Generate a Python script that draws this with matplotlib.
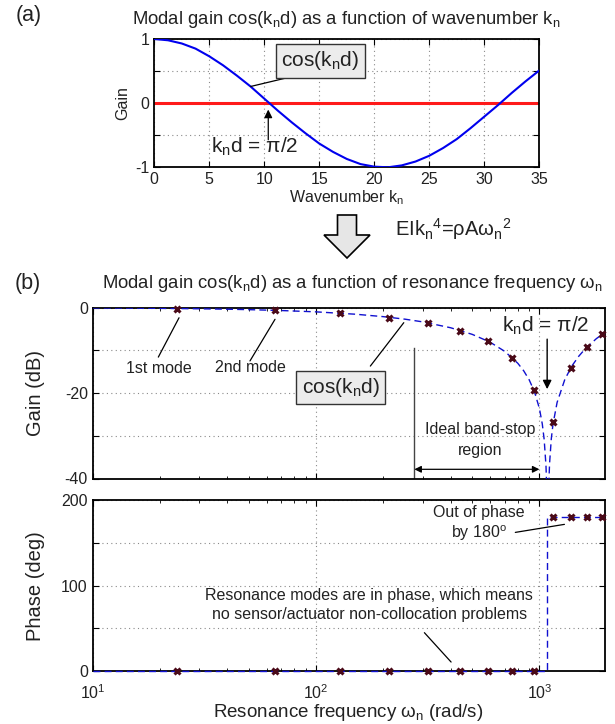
import matplotlib
matplotlib.use("Agg")
import matplotlib.pyplot as plt
from matplotlib.patches import FancyArrow
from matplotlib.ticker import FixedLocator, FixedFormatter, LogLocator, NullFormatter

plt.rcParams['font.family'] = ['Liberation Sans', 'DejaVu Sans']
plt.rcParams['mathtext.fontset'] = 'custom'
plt.rcParams['mathtext.rm'] = 'Liberation Sans'
plt.rcParams['mathtext.it'] = 'Liberation Sans'
plt.rcParams['mathtext.default'] = 'regular'

TXT = '#222222'

# (a) modal gain vs wavenumber
wavenumber = [0, 1.25, 2.5, 3.75, 5, 6.25, 7.5, 8.75, 10, 11.25, 12.5, 13.75, 15,
              16.25, 17.5, 18.75, 20, 21.25, 22.5, 23.75, 25, 26.25, 27.5, 28.75,
              30, 31.25, 32.5, 33.75, 35]
gain_a = [1.00, 0.98, 0.93, 0.85, 0.73, 0.59, 0.43, 0.26, 0.07, -0.12, -0.30, -0.47,
          -0.63, -0.76, -0.87, -0.95, -0.99, -1.00, -0.97, -0.91, -0.82, -0.70,
          -0.56, -0.39, -0.21, -0.03, 0.16, 0.34, 0.51]

# (b) dashed gain curve in dB vs resonance frequency (rad/s)
omega_curve = [10, 15, 20, 30, 40, 50, 70, 100, 150, 200, 250, 300, 400, 500, 600,
               700, 800, 850, 900, 950, 1000, 1030, 1050, 1070, 1080, 1089, 1100,
               1110, 1130, 1150, 1200, 1300, 1400, 1500, 1600, 1800, 1960]
gain_curve = [-0.10, -0.15, -0.20, -0.30, -0.40, -0.50, -0.71, -1.02, -1.57, -2.14,
              -2.73, -3.36, -4.73, -6.28, -8.08, -10.27, -13.04, -14.79, -16.93,
              -19.68, -23.63, -27.25, -30.85, -37.01, -43.35, -60.0, -42.38, -36.6,
              -30.75, -27.32, -22.20, -16.80, -13.62, -11.40, -9.72, -7.27, -5.9]

# resonance modes
mode_omega = [23.8, 65.5, 127.7, 211.7, 317.4, 440.2, 587.5, 756.9, 943.7,
              1152, 1387, 1636, 1909]
mode_gain = [-0.28, -0.65, -1.36, -2.45, -3.62, -5.4, -7.9, -11.7, -19.35,
             -26.9, -14.1, -9.2, -6.3]
mode_phase = [0, 0, 0, 0, 0, 0, 0, 0, 0, 180, 180, 180, 180]

phase_omega = [10, 1085, 1085, 1960]
phase_curve = [0, 0, 180, 180]


def style_axes(ax, xgrid=True):
    for s in ax.spines.values():
        s.set_linewidth(1.3)
        s.set_color('k')
    ax.tick_params(which='both', direction='in', top=True, right=True,
                   labelsize=11.5, colors='k', labelcolor=TXT)
    ax.tick_params(which='major', length=4, width=0.8)
    ax.tick_params(which='minor', length=2, width=0.6)
    ax.grid(True, which='major', axis='y' if not xgrid else 'both',
            linestyle=(0, (1, 3)), color='#8a8a8a', linewidth=0.8)


def line(ax, p0, p1):
    ax.annotate('', xy=p1, xytext=p0,
                arrowprops=dict(arrowstyle='-', color='k', lw=0.9,
                                shrinkA=0, shrinkB=0))


def arrow(ax, p0, p1, lw=1.0, scale=14):
    ax.annotate('', xy=p1, xytext=p0,
                arrowprops=dict(arrowstyle='-|>', color='k', lw=lw,
                                mutation_scale=scale, shrinkA=0, shrinkB=0))


fig = plt.figure(figsize=(6.15, 7.24), dpi=100)
W, H = 615.0, 724.0


def px_axes(left, top, right, bottom):
    return fig.add_axes([left / W, 1 - bottom / H, (right - left) / W, (bottom - top) / H])


box = dict(boxstyle='square,pad=0.25', facecolor='#ececec', edgecolor='#333333', lw=1)

# ---------------- panel (a)
ax1 = px_axes(154.3, 39, 539.3, 167.3)
ax1.plot(wavenumber, gain_a, color='#0000ee', lw=1.5, zorder=3)
ax1.axhline(0, color='#ff1a1a', lw=2.2, zorder=2)
ax1.set_xlim(0, 35)
ax1.set_ylim(-1, 1)
ax1.set_xticks(range(0, 36, 5))
ax1.yaxis.set_major_locator(FixedLocator([-1, -0.5, 0, 0.5, 1]))
ax1.yaxis.set_major_formatter(FixedFormatter(['-1', '', '0', '', '1']))
style_axes(ax1)
ax1.set_xlabel('Wavenumber k$_n$', fontsize=11.5, color=TXT, labelpad=1)
ax1.set_ylabel('Gain', fontsize=11.5, color=TXT)
ax1.yaxis.set_label_coords(-0.063, 0.5)

ax1.text(15.1, 0.66, 'cos(k$_n$d)', fontsize=15, color=TXT, ha='center', va='center',
         bbox=box, zorder=5)
line(ax1, (12.06, 0.395), (8.76, 0.26))
ax1.text(9.15, -0.68, 'k$_n$d = π/2', fontsize=15, color=TXT, ha='center', va='center')
arrow(ax1, (10.36, -0.57), (10.36, -0.1), lw=0.9, scale=12)

fig.text(346 / W, 1 - 20 / H, 'Modal gain cos(k$_n$d) as a function of wavenumber k$_n$',
         fontsize=13.3, color=TXT, ha='center', va='center')
fig.text(28.5 / W, 1 - 15 / H, '(a)', fontsize=15.5, color=TXT, ha='center', va='center')

# big hollow arrow + dispersion relation
fig.patches.append(FancyArrow(3.47, 7.24 - 2.15, 0, -0.43, width=0.19, head_width=0.46,
                              head_length=0.23, length_includes_head=True,
                              facecolor='#e6e6e6', edgecolor='k', lw=1.2,
                              transform=fig.dpi_scale_trans, figure=fig))
fig.text(395 / W, 1 - 229 / H, 'EIk$_n$$^4$=ρAω$_n$$^2$', fontsize=14.5, color=TXT,
         ha='left', va='center')

# ---------------- panel (b) gain
ax2 = px_axes(92.7, 307.5, 604.7, 478.5)
ax2.set_xscale('log')
ax2.plot(omega_curve, gain_curve, color='#1010d0', lw=1.0, ls=(0, (5, 3)), zorder=3)
ax2.plot(mode_omega, mode_gain, ls='none', marker='x', ms=4.5, mew=2.2,
         color='#4a0a18', zorder=4, clip_on=False)
ax2.set_xlim(10, 1960)
ax2.set_ylim(-40, 0)
ax2.yaxis.set_major_locator(FixedLocator([-40, -30, -20, -10, 0]))
ax2.yaxis.set_major_formatter(FixedFormatter(['-40', '', '-20', '', '0']))
ax2.xaxis.set_minor_locator(LogLocator(subs=range(2, 10)))
ax2.xaxis.set_minor_formatter(NullFormatter())
ax2.set_xticklabels([])
style_axes(ax2)
ax2.tick_params(axis='x', which='both', labelbottom=False)
ax2.set_ylabel('Gain (dB)', fontsize=14.5, color=TXT)
ax2.yaxis.set_label_coords(-0.093, 0.5)

ax2.text(19.85, -14.3, '1st mode', fontsize=11.5, color=TXT, ha='center', va='center')
line(ax2, (24.35, -2.4), (19.67, -11.6))
ax2.text(50.9, -14.1, '2nd mode', fontsize=11.5, color=TXT, ha='center', va='center')
line(ax2, (65.5, -2.76), (50.6, -12.5))
ax2.text(128.7, -18.7, 'cos(k$_n$d)', fontsize=15, color=TXT, ha='center', va='center',
         bbox=box, zorder=5)
line(ax2, (175, -13.7), (247, -3.55))
ax2.text(1064, -4.3, 'k$_n$d = π/2', fontsize=15, color=TXT, ha='center', va='center')
arrow(ax2, (1083, -7.4), (1083, -19.1), lw=1.0, scale=13)
ax2.text(544, -28.5, 'Ideal band-stop', fontsize=11.5, color=TXT, ha='center', va='center')
ax2.text(544, -33.4, 'region', fontsize=11.5, color=TXT, ha='center', va='center')
ax2.plot([275.5, 275.5], [-9.55, -40], color='#444444', lw=1.0)
ax2.annotate('', xy=(1000, -37.85), xytext=(275.5, -37.85),
             arrowprops=dict(arrowstyle='<|-|>', color='k', lw=0.9, mutation_scale=10,
                             shrinkA=0, shrinkB=0))

fig.text(352.4 / W, 1 - 283.3 / H,
         'Modal gain cos(k$_n$d) as a function of resonance frequency ω$_n$',
         fontsize=13.3, color=TXT, ha='center', va='center')
fig.text(28 / W, 1 - 284 / H, '(b)', fontsize=15.5, color=TXT, ha='center', va='center')

# ---------------- panel (b) phase
ax3 = px_axes(92.7, 500.3, 604.7, 671)
ax3.set_xscale('log')
ax3.plot(phase_omega, phase_curve, color='#1010d0', lw=1.0, ls=(0, (5, 3)), zorder=3,
         clip_on=False)
ax3.plot(mode_omega, mode_phase, ls='none', marker='x', ms=4.5, mew=2.2,
         color='#4a0a18', zorder=4, clip_on=False)
ax3.set_xlim(10, 1960)
ax3.set_ylim(0, 200)
ax3.yaxis.set_major_locator(FixedLocator([0, 50, 100, 150, 200]))
ax3.yaxis.set_major_formatter(FixedFormatter(['0', '', '100', '', '200']))
ax3.xaxis.set_minor_locator(LogLocator(subs=range(2, 10)))
ax3.xaxis.set_minor_formatter(NullFormatter())
style_axes(ax3)
ax3.tick_params(axis='x', which='major', pad=9)
ax3.set_ylabel('Phase (deg)', fontsize=14.5, color=TXT)
ax3.yaxis.set_label_coords(-0.093, 0.5)
ax3.set_xlabel('Resonance frequency ω$_n$ (rad/s)', fontsize=13.5, color=TXT, labelpad=0)

ax3.text(537, 185.4, 'Out of phase', fontsize=11.5, color=TXT, ha='center', va='center')
ax3.text(537, 162, 'by 180$^o$', fontsize=11.5, color=TXT, ha='center', va='center')
line(ax3, (780, 162.4), (1294, 171.8))
ax3.text(173.3, 88.6, 'Resonance modes are in phase, which means', fontsize=11.5,
         color=TXT, ha='center', va='center')
ax3.text(173.3, 66.4, 'no sensor/actuator non-collocation problems', fontsize=11.5,
         color=TXT, ha='center', va='center')
line(ax3, (305.5, 44.9), (402.3, 10.5))

fig.savefig('out.png', dpi=100, facecolor='white')
